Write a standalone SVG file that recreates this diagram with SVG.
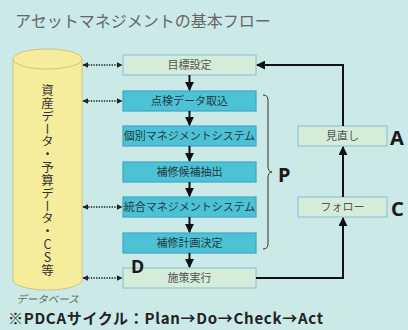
<svg xmlns="http://www.w3.org/2000/svg" width="408" height="330" viewBox="0 0 408 330">
<defs>
<style>
.t{font-family:"Noto Sans CJK JP","Noto Sans",sans-serif;}
.bx{font-family:"Noto Sans CJK JP",sans-serif;font-size:11px;text-anchor:middle;}
.pale{fill:#d4ecd8;stroke:#8ec6e2;stroke-width:1.2;}
.teal{fill:#4ec2d5;stroke:#3ba7c9;stroke-width:1.2;}
.flow{stroke:#111;stroke-width:2;fill:none;}
.dot{stroke:#222;stroke-width:1.6;stroke-dasharray:1.4 1.2;fill:none;}
.lbl{font-family:"Noto Sans","Liberation Sans",sans-serif;font-weight:bold;fill:#1a1a1a;}
</style>
<marker id="ah" viewBox="0 0 10 10" refX="9" refY="5" markerWidth="4.5" markerHeight="4.5" orient="auto" markerUnits="strokeWidth">
<path d="M0,0 L10,5 L0,10 z" fill="#111"/>
</marker>
<marker id="dh" viewBox="0 0 10 10" refX="9" refY="5" markerWidth="3.5" markerHeight="3.5" orient="auto-start-reverse" markerUnits="strokeWidth">
<path d="M0,0 L10,5 L0,10 z" fill="#222"/>
</marker>
</defs>
<rect x="0" y="0" width="408" height="330" fill="#cbe9e6"/>
<text class="t" x="15" y="27" font-size="16" fill="#666">アセットマネジメントの基本フロー</text>

<g id="database">
<path d="M13,59 L13,280 A34.5,10 0 0 0 82,280 L82,59" fill="#f5ed9c" stroke="#cfc57a" stroke-width="1"/>
<ellipse cx="47.5" cy="59" rx="34.5" ry="10" fill="#f5ed9c" stroke="#cfc57a" stroke-width="1"/>
<text class="t" x="47.5" y="84" font-size="12.5" letter-spacing="0.35" fill="#333" style="writing-mode:vertical-rl;text-orientation:upright;">資産データ・予算データ・CS等</text>
<text class="t" x="47.5" y="303" font-size="10.5" fill="#666" text-anchor="middle" font-style="italic">データベース</text>
</g>

<g id="n1"><rect class="pale" x="123" y="55" width="133" height="20"/><text class="bx" x="189.5" y="69" fill="#555">目標設定</text></g>
<g id="n2"><rect class="teal" x="123" y="91" width="133" height="20"/><text class="bx" x="189.5" y="105" fill="#1f3a44">点検データ取込</text></g>
<g id="n3"><rect class="teal" x="123" y="126" width="133" height="20"/><text class="bx" x="189.5" y="140" fill="#1f3a44">個別マネジメントシステム</text></g>
<g id="n4"><rect class="teal" x="123" y="162" width="133" height="20"/><text class="bx" x="189.5" y="176" fill="#1f3a44">補修候補抽出</text></g>
<g id="n5"><rect class="teal" x="123" y="197" width="133" height="20"/><text class="bx" x="189.5" y="211" fill="#1f3a44">統合マネジメントシステム</text></g>
<g id="n6"><rect class="teal" x="123" y="233" width="133" height="20"/><text class="bx" x="189.5" y="247" fill="#1f3a44">補修計画決定</text></g>
<g id="n7"><rect class="pale" x="123" y="268" width="133" height="20"/><text class="bx" x="189.5" y="282" fill="#555">施策実行</text></g>
<g id="review"><rect class="pale" x="298" y="126" width="89" height="20"/><text class="bx" x="342.5" y="140" fill="#555" font-size="10">見直し</text></g>
<g id="follow"><rect class="pale" x="298" y="197" width="89" height="20"/><text class="bx" x="342.5" y="211" fill="#555" font-size="10">フォロー</text></g>

<g id="connectors">
<line class="flow" x1="189.5" y1="75" x2="189.5" y2="90" marker-end="url(#ah)"/>
<line class="flow" x1="189.5" y1="111" x2="189.5" y2="125" marker-end="url(#ah)"/>
<line class="flow" x1="189.5" y1="146" x2="189.5" y2="161" marker-end="url(#ah)"/>
<line class="flow" x1="189.5" y1="182" x2="189.5" y2="196" marker-end="url(#ah)"/>
<line class="flow" x1="189.5" y1="217" x2="189.5" y2="232" marker-end="url(#ah)"/>
<line class="flow" x1="189.5" y1="253" x2="189.5" y2="267" marker-end="url(#ah)"/>
<polyline class="flow" points="256,278 343,278 343,218" marker-end="url(#ah)"/>
<line class="flow" x1="343" y1="197" x2="343" y2="147" marker-end="url(#ah)"/>
<polyline class="flow" points="343,126 343,65 257,65" marker-end="url(#ah)"/>
<line class="dot" x1="83" y1="65" x2="122" y2="65" marker-start="url(#dh)" marker-end="url(#dh)"/>
<line class="dot" x1="83" y1="101" x2="122" y2="101" marker-start="url(#dh)" marker-end="url(#dh)"/>
<line class="dot" x1="83" y1="207" x2="122" y2="207" marker-start="url(#dh)" marker-end="url(#dh)"/>
<line class="dot" x1="83" y1="278" x2="122" y2="278" marker-start="url(#dh)" marker-end="url(#dh)"/>
<path d="M263,95 Q268,95 268,100 L268,166 Q268,172 272,172 Q268,172 268,178 L268,244 Q268,249 263,249" fill="none" stroke="#333" stroke-width="1"/>
</g>

<text class="lbl" x="278" y="182" font-size="20">P</text>
<text class="lbl" x="131" y="273" font-size="18">D</text>
<text class="lbl" x="390" y="145" font-size="20">A</text>
<text class="lbl" x="391" y="216" font-size="20">C</text>
<text class="t" x="8" y="324" font-size="15" fill="#222" font-weight="bold" textLength="315" lengthAdjust="spacing">※PDCAサイクル：Plan→Do→Check→Act</text>
</svg>
